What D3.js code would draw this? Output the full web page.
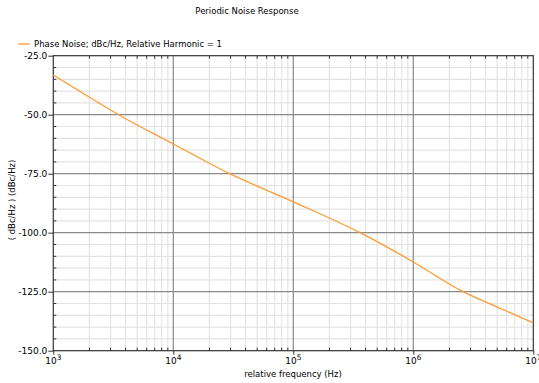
<!DOCTYPE html>
<html><head><meta charset="utf-8">
<script src="https://cdn.jsdelivr.net/npm/d3@7"></script>
<style>body{margin:0;background:#fff}svg{display:block}text{font-family:"DejaVu Sans",sans-serif;fill:#000}</style>
</head><body><svg id="c" width="539" height="383"></svg>
<script>
const title = "Periodic Noise Response";
const seriesName = "Phase Noise; dBc/Hz, Relative Harmonic = 1";
const xTitle = "relative frequency (Hz)";
const yTitle = "( dBc/Hz ) (dBc/Hz)";
const freqs = [1e3, 2e3, 3.5e3, 1e4, 2.95e4, 1e5, 3.6e5, 1e6, 2.6e6, 5e6, 1e7];
const noise = [-33.2, -42.6, -50, -62.4, -75, -86.9, -100, -112.4, -125, -131.5, -138.2];
const yTicks = [-25, -50, -75, -100, -125, -150];
const xDecades = [3, 4, 5, 6, 7];

const svg = d3.select("#c");
const L = 53.3, R = 533.3, T = 55.7, B = 350.7;
const x = d3.scaleLog().domain([1e3, 1e7]).range([L, R]);
const y = d3.scaleLinear().domain([-150, -25]).range([B, T]);

// minor grid
const minorX = [];
for (let d = 3; d < 7; d++) for (let m = 2; m <= 9; m++) minorX.push(m * Math.pow(10, d));
const minorY = d3.range(-145, -25, 5).filter(v => v % 25 !== 0);
const g = svg.append("g");
g.selectAll(".mx").data(minorX).join("line").attr("x1", d => x(d)).attr("x2", d => x(d))
  .attr("y1", T).attr("y2", B).attr("stroke", "#e4e4e4").attr("stroke-width", 1.2);
g.selectAll(".my").data(minorY).join("line").attr("y1", d => y(d)).attr("y2", d => y(d))
  .attr("x1", L).attr("x2", R).attr("stroke", "#e4e4e4").attr("stroke-width", 1.2);
// major grid
g.selectAll(".Mx").data(xDecades.slice(1, -1)).join("line").attr("x1", d => x(Math.pow(10, d))).attr("x2", d => x(Math.pow(10, d)))
  .attr("y1", T).attr("y2", B).attr("stroke", "#8a8a8a").attr("stroke-width", 1.2);
g.selectAll(".My").data(yTicks.slice(1, -1)).join("line").attr("y1", d => y(d)).attr("y2", d => y(d))
  .attr("x1", L).attr("x2", R).attr("stroke", "#8a8a8a").attr("stroke-width", 1.2);

// frame
svg.append("rect").attr("x", L).attr("y", T).attr("width", R - L).attr("height", B - T)
  .attr("fill", "none").attr("stroke", "#333").attr("stroke-width", 1.2);

// y axis
const yAx = svg.append("g").attr("transform", `translate(${L},0)`)
  .call(d3.axisLeft(y).tickValues(yTicks).tickSize(5).tickPadding(1).tickFormat(d3.format(".1f")));
yAx.select(".domain").remove();
yAx.selectAll("line").attr("stroke", "#333");
yAx.selectAll("text").attr("font-size", 9).text(d => d3.format(".1f")(d).replace("−", "-"));
// y minor ticks
svg.append("g").selectAll("line").data(minorY).join("line")
  .attr("x1", L).attr("x2", L + 3).attr("y1", d => y(d)).attr("y2", d => y(d)).attr("stroke", "#333");

// x axis
const xAx = svg.append("g").attr("transform", `translate(0,${B})`)
  .call(d3.axisBottom(x).tickValues(xDecades.map(d => Math.pow(10, d))).tickSize(4).tickFormat(""));
xAx.select(".domain").remove();
xAx.selectAll("line").attr("stroke", "#333");
svg.append("g").selectAll("line").data(minorX).join("line")
  .attr("x1", d => x(d)).attr("x2", d => x(d)).attr("y1", B).attr("y2", B - 3).attr("stroke", "#333");
svg.append("g").selectAll("line").data(minorX).join("line")
  .attr("x1", d => x(d)).attr("x2", d => x(d)).attr("y1", T).attr("y2", T + 3).attr("stroke", "#333");
const xl = svg.append("g").selectAll("text").data(xDecades).join("text")
  .attr("x", d => x(Math.pow(10, d))).attr("y", 364).attr("text-anchor", "middle").attr("font-size", 9);
xl.append("tspan").text("10");
xl.append("tspan").attr("dy", -4).attr("font-size", 7.5).text(d => d);

// line
const line = d3.line().x((d, i) => x(freqs[i])).y(d => y(d)).curve(d3.curveMonotoneX);
svg.append("path").datum(noise).attr("d", line).attr("fill", "none")
  .attr("stroke", "#ff9a30").attr("stroke-width", 1.3);

// titles
svg.append("text").attr("x", 247).attr("y", 14).attr("text-anchor", "middle").attr("font-size", 8.5).text(title);
svg.append("line").attr("x1", 18).attr("x2", 30).attr("y1", 44).attr("y2", 44).attr("stroke", "#ff9a30").attr("stroke-width", 1.3);
svg.append("text").attr("x", 34).attr("y", 47).attr("font-size", 8.5).text(seriesName);
svg.append("text").attr("x", 293).attr("y", 377).attr("text-anchor", "middle").attr("font-size", 8.5).text(xTitle);
svg.append("text").attr("transform", "translate(15,200) rotate(-90)").attr("text-anchor", "middle").attr("font-size", 8.5).text(yTitle);
</script></body></html>
